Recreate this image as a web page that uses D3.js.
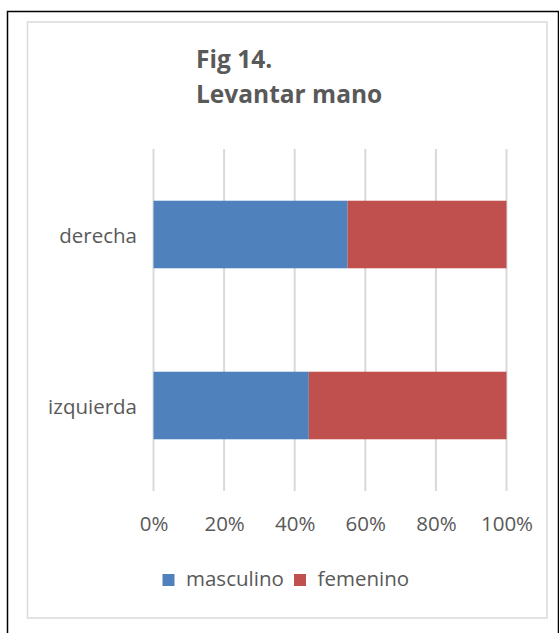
<!DOCTYPE html>
<html>
<head>
<meta charset="utf-8">
<script src="https://cdn.jsdelivr.net/npm/d3@7"></script>
<style>
  html, body { margin: 0; padding: 0; background: #fff; }
  svg { display: block; }
  text { font-family: "Open Sans", "Noto Sans", sans-serif; fill: #595959; }
</style>
</head>
<body>
<script>
const titleLines = ["Fig 14.", "Levantar mano"];
const categories = ["derecha", "izquierda"];
const seriesNames = ["masculino", "femenino"];
const masculino = [0.55, 0.44];
const femenino = [0.45, 0.56];
const colors = ["#4F81BD", "#C0504D"];
const tickValues = [0, 0.2, 0.4, 0.6, 0.8, 1.0];

const W = 559, H = 633;
const svg = d3.select("body").append("svg").attr("width", W).attr("height", H);

// outer black frame
svg.append("rect").attr("x", 7.5).attr("y", 11.5).attr("width", 551).attr("height", 700)
  .attr("fill", "none").attr("stroke", "#000").attr("stroke-width", 1.5);
// inner chart area border
svg.append("rect").attr("x", 27.5).attr("y", 22).attr("width", 519.5).attr("height", 596)
  .attr("fill", "#fff").attr("stroke", "#D9D9D9").attr("stroke-width", 1.5);

// title
const title = svg.append("text").attr("x", 196).attr("font-weight", "bold").attr("font-size", 24.5);
title.selectAll("tspan").data(titleLines).join("tspan")
  .attr("x", 196).attr("y", (d, i) => 68 + i * 35).text(d => d);

const x = d3.scaleLinear().domain([0, 1]).range([153.5, 506.5]);
const y = d3.scaleBand().domain(categories).range([149, 491]).paddingInner(0.605).paddingOuter(0.3025);

// gridlines
svg.append("g").selectAll("line").data(tickValues).join("line")
  .attr("x1", d => x(d)).attr("x2", d => x(d))
  .attr("y1", 149).attr("y2", 491)
  .attr("stroke", "#D9D9D9").attr("stroke-width", 2);

// stacked bars
const stackData = categories.map((c, i) => ({ cat: c, masculino: masculino[i], femenino: femenino[i] }));
const stack = d3.stack().keys(seriesNames)(stackData);
svg.append("g").selectAll("g").data(stack).join("g")
  .attr("fill", (d, i) => colors[i])
  .selectAll("rect").data(d => d).join("rect")
  .attr("x", d => x(d[0])).attr("width", d => x(d[1]) - x(d[0]))
  .attr("y", d => y(d.data.cat)).attr("height", y.bandwidth());

// category axis labels
svg.append("g").selectAll("text").data(categories).join("text")
  .attr("x", 137).attr("y", d => y(d) + y.bandwidth() / 2 + 8.5)
  .attr("text-anchor", "end").attr("font-size", 20.5).text(d => d);

// x axis tick labels
const xAxis = d3.axisBottom(x).tickValues(tickValues).tickFormat(d3.format(".0%")).tickSize(0).tickPadding(0);
const gx = svg.append("g").attr("transform", "translate(0,516)").call(xAxis);
gx.select(".domain").remove();
gx.selectAll("text").attr("font-size", 20.5).attr("dy", 0).attr("y", 15)
  .style("font-family", '"Open Sans", "Noto Sans", sans-serif').attr("fill", "#595959");

// legend
const legendX = [162.5, 294];
const lg = svg.append("g").selectAll("g").data(seriesNames).join("g")
  .attr("transform", (d, i) => `translate(${legendX[i]},574)`);
lg.append("rect").attr("width", 12).attr("height", 12).attr("fill", (d, i) => colors[i]);
lg.append("text").attr("x", 23.5).attr("y", 12).attr("font-size", 20.5).text(d => d);
</script>
</body>
</html>
